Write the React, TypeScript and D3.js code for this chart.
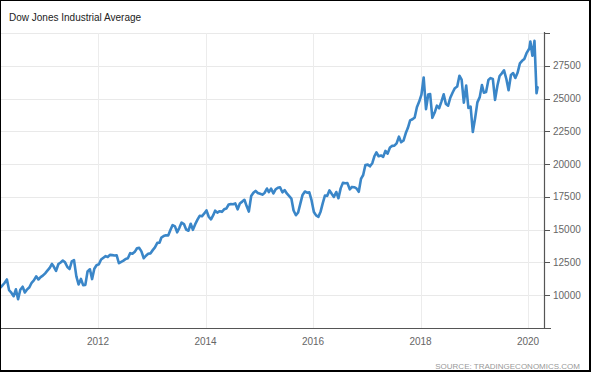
import * as d3 from "d3";

// semi-monthly closes (around the 7th and 22nd), 2010 starts in March
const dow2010 = [10570, 10740, 10950, 11200, 10380, 10190, 9930, 10450, 9690, 10420, 10650, 10210, 10450, 10610, 10950, 11130, 11440, 11200, 11380, 11490];
const dow2011 = [11670, 11870, 12090, 12390, 12170, 11860, 12380, 12500, 12640, 12510, 12150, 12000, 12580, 12680, 11440, 10820, 11240, 10770, 10790, 11810, 11980, 11230, 12020, 12290];
const dow2012 = [12360, 12720, 12860, 12980, 12920, 13080, 13060, 13030, 13040, 12440, 12550, 12640, 12770, 12820, 13210, 13160, 13310, 13580, 13610, 13340, 12820, 13010, 13160, 13190];
const dow2013 = [13440, 13650, 13990, 14000, 14400, 14510, 14570, 14550, 14970, 15350, 15250, 14800, 15140, 15540, 15430, 15010, 14920, 15450, 14990, 15400, 15760, 16060, 16020, 16220];
const dow2014 = [16470, 16000, 15790, 16100, 16450, 16300, 16410, 16360, 16550, 16610, 16920, 16950, 16940, 17000, 16550, 17000, 17140, 17280, 16800, 16380, 17570, 17810, 17960, 17800];
const dow2015 = [17740, 17670, 17820, 18140, 17860, 18130, 17760, 18080, 18190, 18230, 17850, 18020, 17760, 17570, 17370, 16460, 16100, 16310, 16990, 17650, 17910, 17820, 17850, 17250];
const dow2016 = [16350, 16090, 15980, 16390, 17010, 17600, 17580, 18000, 17740, 17500, 17870, 17400, 18150, 18570, 18540, 18550, 18080, 18260, 18240, 18150, 17890, 18870, 19170, 19930];
const dow2017 = [19960, 19830, 20070, 20620, 20900, 20600, 20660, 20550, 21010, 20800, 21270, 21390, 21410, 21580, 22090, 21670, 21800, 22350, 22770, 23330, 23420, 23560, 24330, 24750];
const dow2018 = [25300, 26610, 24190, 25310, 25340, 23530, 23930, 24460, 24260, 24750, 25320, 24580, 24460, 25060, 25460, 25790, 25920, 26740, 26450, 24690, 25990, 24290, 24390, 22450];
const dow2019 = [23530, 24710, 25110, 26030, 25450, 25500, 26420, 26560, 26500, 24900, 25980, 26720, 26920, 27150, 26490, 25630, 26800, 26940, 26570, 26960, 27680, 27880, 28020, 28460];
const dates2020 = ["2020-01-10", "2020-01-17", "2020-01-31", "2020-02-14", "2020-02-28", "2020-03-06"];
const dow2020 = [28820, 29350, 28260, 29400, 25410, 25860];

const yearSeries: [number, number[]][] = [
  [2010, dow2010],
  [2011, dow2011],
  [2012, dow2012],
  [2013, dow2013],
  [2014, dow2014],
  [2015, dow2015],
  [2016, dow2016],
  [2017, dow2017],
  [2018, dow2018],
  [2019, dow2019],
];

const yTicks = [7500, 10000, 12500, 15000, 17500, 20000, 22500, 25000, 27500, 30000];
const yLabelTicks = [10000, 12500, 15000, 17500, 20000, 22500, 25000, 27500];
const xTickYears = [2012, 2014, 2016, 2018, 2020];

const TITLE = "Dow Jones Industrial Average";
const SOURCE = "SOURCE: TRADINGECONOMICS.COM";
const LINE = "#3a86c8";
const FONT = "'Liberation Sans', Arial, sans-serif";

interface Pt {
  date: Date;
  value: number;
}

const points: Pt[] = [];
yearSeries.forEach(([year, vals]) => {
  const m0 = year === 2010 ? 2 : 0;
  vals.forEach((v, i) => {
    points.push({ date: new Date(year, m0 + Math.floor(i / 2), i % 2 ? 22 : 7), value: v });
  });
});
dates2020.forEach((d, i) => {
  const [yy, mm, dd] = d.split("-").map(Number);
  points.push({ date: new Date(yy, mm - 1, dd), value: dow2020[i] });
});

export default function App() {
  const W = 591;
  const H = 372;
  const left = 0;
  const right = 544;
  const top = 33;
  const bottom = 328;

  const x = d3
    .scaleTime()
    .domain([new Date(2012, 0, 1), new Date(2020, 0, 1)])
    .range([98, 528]);
  const y = d3.scaleLinear().domain([7500, 30000]).range([bottom, top]);

  const line = d3
    .line<Pt>()
    .x((d) => x(d.date))
    .y((d) => y(d.value))
    .curve(d3.curveLinear);

  const crisp = (v: number) => Math.round(v) + 0.5;

  return (
    <svg
      width={W}
      height={H}
      style={{ position: "absolute", left: 0, top: 0, background: "#fff", fontFamily: FONT }}
    >
      <defs>
        <clipPath id="plot-clip">
          <rect x={left} y={top - 4} width={right - left} height={bottom - top + 4} />
        </clipPath>
      </defs>
      <rect x={0} y={0} width={W} height={H} fill="#fff" />

      {/* grid */}
      {yTicks.map((t) => (
        <line
          key={`gy${t}`}
          x1={left}
          x2={right}
          y1={crisp(y(t))}
          y2={crisp(y(t))}
          stroke="#e9e9e9"
          strokeWidth={1}
        />
      ))}
      {xTickYears.map((yr) => (
        <line
          key={`gx${yr}`}
          x1={crisp(x(new Date(yr, 0, 1)))}
          x2={crisp(x(new Date(yr, 0, 1)))}
          y1={top}
          y2={bottom}
          stroke="#ececec"
          strokeWidth={1}
        />
      ))}

      {/* series */}
      <path
        d={line(points) ?? ""}
        fill="none"
        stroke={LINE}
        strokeWidth={2.6}
        strokeLinejoin="round"
        strokeLinecap="round"
        clipPath="url(#plot-clip)"
      />

      {/* axes */}
      <line x1={left} x2={right + 7} y1={crisp(bottom)} y2={crisp(bottom)} stroke="#555" strokeWidth={1.2} />
      <line x1={crisp(right)} x2={crisp(right)} y1={top - 1} y2={bottom} stroke="#555" strokeWidth={1.2} />
      {yTicks.map((t) => (
        <line
          key={`ty${t}`}
          x1={right}
          x2={right + 6}
          y1={crisp(y(t))}
          y2={crisp(y(t))}
          stroke="#555"
          strokeWidth={1}
        />
      ))}
      {yLabelTicks.map((t) => (
        <text
          key={`ly${t}`}
          x={553}
          y={y(t)}
          dy="0.35em"
          fontSize={10}
          fill="#666"
        >
          {t}
        </text>
      ))}
      {xTickYears.map((yr) => (
        <text
          key={`lx${yr}`}
          x={x(new Date(yr, 0, 1))}
          y={345}
          textAnchor="middle"
          fontSize={10}
          fill="#666"
        >
          {yr}
        </text>
      ))}

      <text x={9} y={21} fontSize={10} fill="#222">
        {TITLE}
      </text>
      <text x={580} y={369} textAnchor="end" fontSize={8} fill="#999">
        {SOURCE}
      </text>

      {/* frame */}
      <rect x={0} y={0} width={590} height={371} fill="none" stroke="#000" strokeWidth={2} />
    </svg>
  );
}
